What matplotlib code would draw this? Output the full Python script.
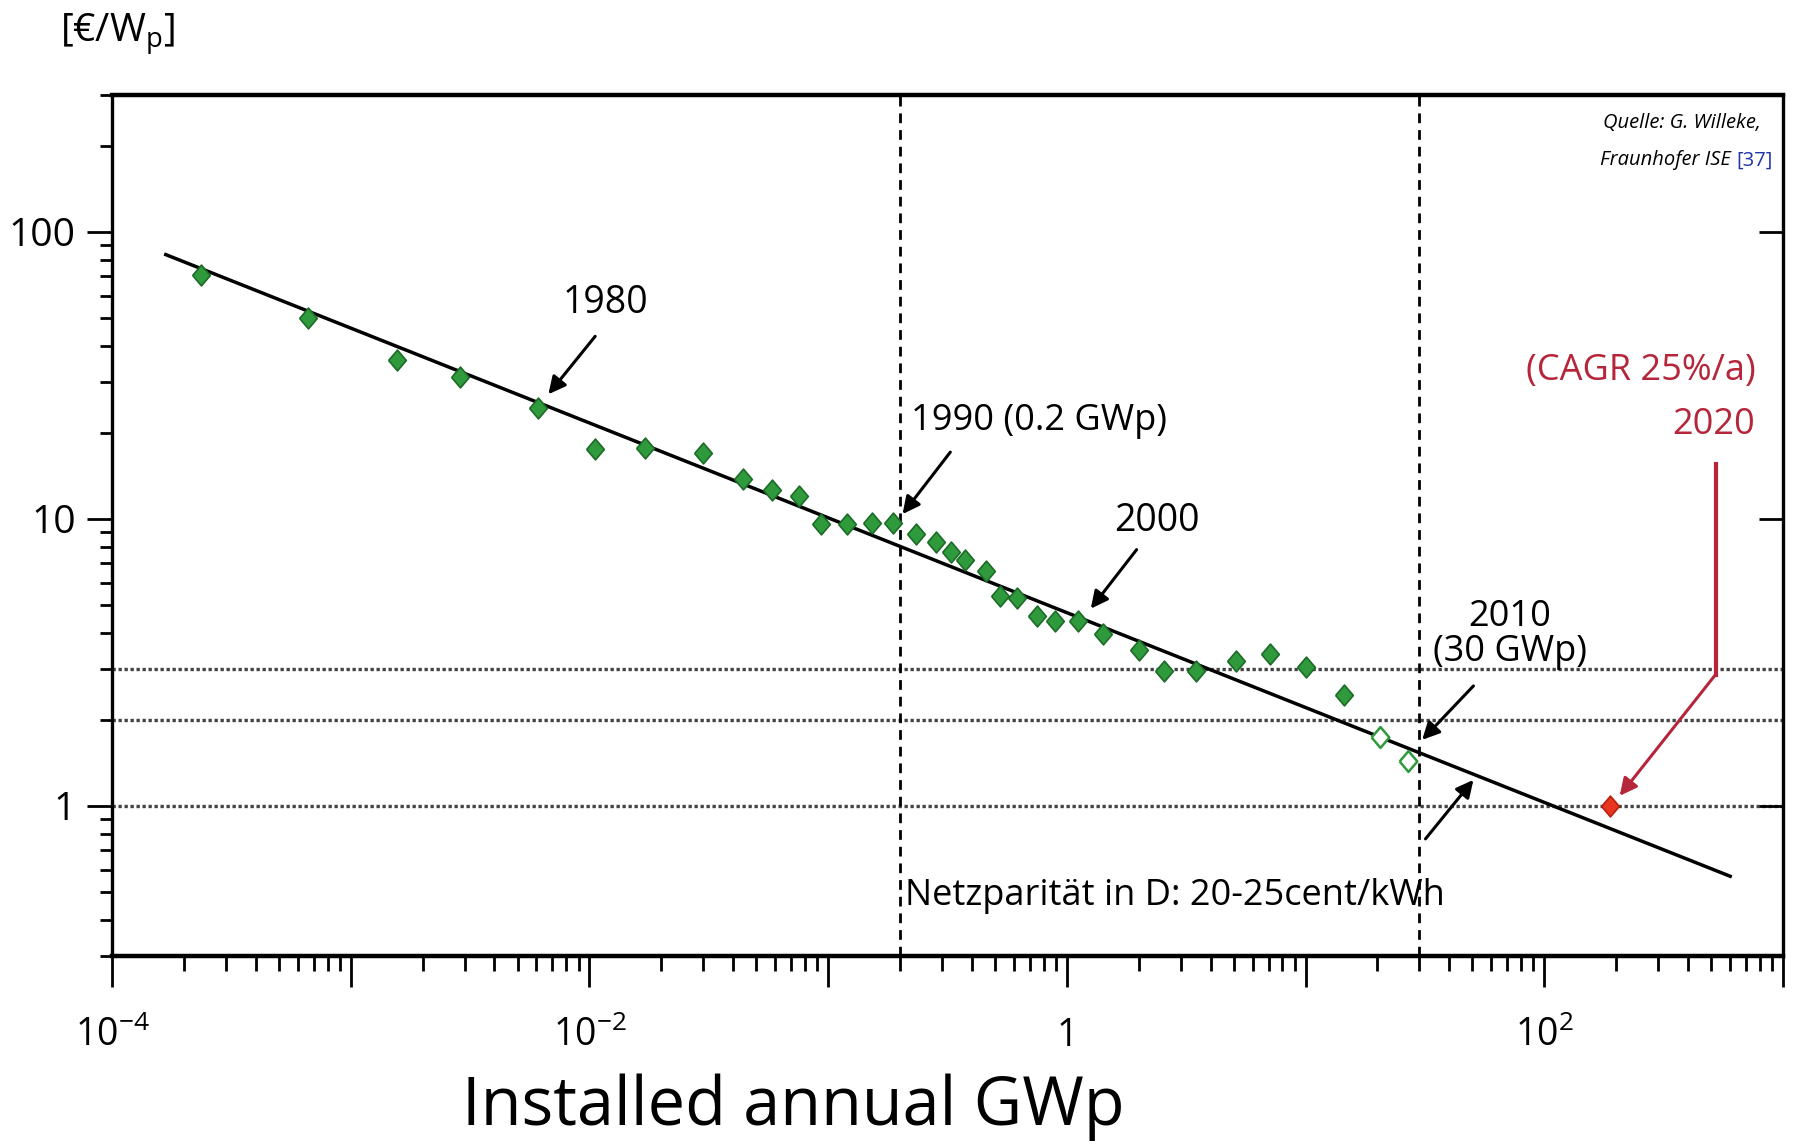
import matplotlib
matplotlib.use('Agg')
import matplotlib.pyplot as plt
from matplotlib.ticker import FixedLocator, FixedFormatter, LogLocator, NullFormatter, NullLocator

FONT = 'Open Sans'
plt.rcParams['font.family'] = [FONT, 'DejaVu Sans']
plt.rcParams['mathtext.fontset'] = 'custom'
plt.rcParams['mathtext.rm'] = FONT
plt.rcParams['mathtext.it'] = FONT + ':italic'

# learning curve data: installed annual GWp vs price in EUR/Wp
gwp = [2.36e-4, 6.65e-4, 1.57e-3, 2.88e-3, 6.1e-3, 0.0106, 0.0171, 0.0299,
       0.0440, 0.0581, 0.0752, 0.0933, 0.1205, 0.1528, 0.1875, 0.2328,
       0.2825, 0.328, 0.373, 0.457, 0.526, 0.617, 0.748, 0.889, 1.112,
       1.413, 2.01, 2.55, 3.48, 5.11, 7.08, 10.07, 14.5]
price = [70.8, 50.0, 35.7, 31.2, 24.4, 17.6, 17.7, 17.0,
         13.8, 12.6, 12.0, 9.64, 9.64, 9.71, 9.71, 8.9,
         8.3, 7.7, 7.2, 6.6, 5.4, 5.3, 4.6, 4.4, 4.4,
         3.96, 3.5, 2.96, 2.96, 3.2, 3.38, 3.04, 2.43]
gwp_est = [20.5, 26.9]
price_est = [1.74, 1.44]
gwp_2020 = [189]
price_2020 = [1.0]
fit_gwp = [1.68e-4, 601]
fit_price = [83.4, 0.569]

parity_levels = [1, 2, 3]
marked_gwp = [0.2, 30]

xtick_vals = [1e-4, 1e-3, 1e-2, 1e-1, 1, 1e1, 1e2, 1e3]
xtick_labels = ['10$^{-4}$', '', '10$^{-2}$', '', '1', '', '10$^{2}$', '']
ytick_vals = [1, 10, 100]
ytick_labels = ['1', '10', '100']

green = '#2f9a3c'
green_dark = '#1d6b28'
red = '#e8351f'
red_text = '#b5263a'
diamond = [(-0.85, 0), (0, 1), (0.85, 0), (0, -1), (-0.85, 0)]

fig = plt.figure(figsize=(17.95, 11.41), dpi=100)
ax = fig.add_axes([0.0624, 0.1621, 0.9309, 0.7546])
ax.set_xscale('log')
ax.set_yscale('log')
ax.set_xlim(1e-4, 1e3)
ax.set_ylim(0.3, 300)

for lvl in parity_levels:
    ax.axhline(lvl, color='#444444', ls=(0, (1, 0.8)), lw=2.4, zorder=1)
for g in marked_gwp:
    ax.axvline(g, color='black', ls=(0, (3.5, 2.5)), lw=2, zorder=1)

ax.plot(fit_gwp, fit_price, color='black', lw=2.5, zorder=2)
ax.plot(gwp, price, ls='none', marker=diamond, ms=15, mfc=green, mec=green_dark, mew=1.2, zorder=3)
ax.plot(gwp_est, price_est, ls='none', marker=diamond, ms=15, mfc='white', mec=green, mew=1.8, zorder=3)
ax.plot(gwp_2020, price_2020, ls='none', marker=diamond, ms=15, mfc=red, mec='#b82010', mew=1.2, zorder=3)

# axes and ticks
for side in ['top', 'bottom']:
    ax.spines[side].set_linewidth(3.2)
for side in ['left', 'right']:
    ax.spines[side].set_linewidth(2.4)

ax.xaxis.set_major_locator(FixedLocator(xtick_vals))
ax.xaxis.set_major_formatter(FixedFormatter(xtick_labels))
ax.xaxis.set_minor_locator(LogLocator(base=10, subs=range(2, 10), numticks=20))
ax.xaxis.set_minor_formatter(NullFormatter())
ax.yaxis.set_major_locator(FixedLocator(ytick_vals))
ax.yaxis.set_major_formatter(FixedFormatter(ytick_labels))
ax.yaxis.set_minor_locator(LogLocator(base=10, subs=range(2, 10), numticks=20))
ax.yaxis.set_minor_formatter(NullFormatter())

ax.tick_params(axis='x', which='major', direction='out', length=22, width=2, labelsize=27, pad=22)
ax.tick_params(axis='x', which='minor', direction='out', length=11, width=2)
ax.tick_params(axis='y', which='major', direction='out', length=18, width=2, labelsize=28, pad=8)
ax.tick_params(axis='y', which='minor', direction='out', length=9, width=2)
ax.tick_params(top=False, right=False, which='both')

twin = ax.twinx()
twin.set_yscale('log')
twin.set_ylim(ax.get_ylim())
twin.yaxis.set_major_locator(FixedLocator(ytick_vals))
twin.yaxis.set_minor_locator(NullLocator())
twin.tick_params(axis='y', which='major', direction='in', length=17, width=2, labelright=False)
for s in twin.spines.values():
    s.set_visible(False)

# annotations
arrow = dict(arrowstyle='-|>', color='black', lw=2.2, mutation_scale=26, shrinkA=0, shrinkB=0)
ax.text(0.0117, 56.4, '1980', fontsize=27, ha='center', va='center')
ax.annotate('', xy=(6.73e-3, 27.2), xytext=(0.01057, 43.3), arrowprops=arrow)
ax.text(0.767, 21.9, '1990 (0.2 GWp)', fontsize=26, ha='center', va='center')
ax.annotate('', xy=(0.205, 10.4), xytext=(0.325, 17.1), arrowprops=arrow)
ax.text(2.39, 9.82, '2000', fontsize=27, ha='center', va='center')
ax.annotate('', xy=(1.26, 4.87), xytext=(1.96, 7.82), arrowprops=arrow)
ax.text(71.8, 3.95, '2010\n(30 GWp)', fontsize=26, ha='center', va='center', linespacing=0.95)
ax.annotate('', xy=(30.8, 1.70), xytext=(50.5, 2.62), arrowprops=arrow)
ax.annotate('', xy=(50.5, 1.233), xytext=(31.8, 0.768), arrowprops=arrow)

ax.text(767, 32.9, '(CAGR 25%/a)', fontsize=26, ha='right', va='center', color=red_text)
ax.text(760, 21.3, '2020', fontsize=26, ha='right', va='center', color=red_text)
ax.plot([522, 522], [15.5, 2.87], color=red_text, lw=3, zorder=2)
ax.annotate('', xy=(207, 1.085), xytext=(522, 2.87),
            arrowprops=dict(arrowstyle='-|>', color=red_text, lw=2.2, mutation_scale=26, shrinkA=0, shrinkB=0))

ax.text(0.2096, 0.487, 'Netzparität in D: 20-25cent/kWh', fontsize=26, ha='left', va='center')

# source note, top right
t37 = ax.text(0.9938, 0.924, '[37]', transform=ax.transAxes, fontsize=14.5, color='#2233aa',
              ha='right', va='center')
ax.annotate('Fraunhofer ISE ', xy=(0, 0.5), xycoords=t37, fontsize=14.5, style='italic',
            ha='right', va='center')
ax.text(0.987, 0.967, 'Quelle: G. Willeke,', transform=ax.transAxes, fontsize=14.5,
        style='italic', ha='right', va='center')

fig.text(0.0334, 0.970, '[€/W$_\\mathrm{p}$]', fontsize=28, ha='left', va='center')
fig.text(0.442, 0.030, 'Installed annual GWp', fontsize=48, ha='center', va='center')

fig.savefig('out.png', dpi=100)
